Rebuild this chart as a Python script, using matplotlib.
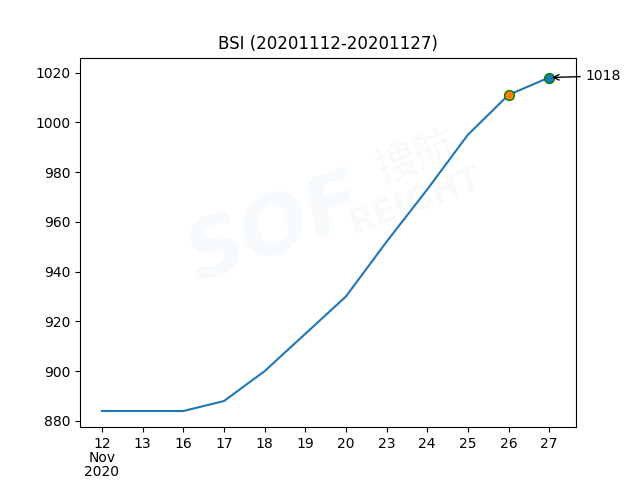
import matplotlib.pyplot as plt

plt.rcParams['font.family'] = ['DejaVu Sans', 'Noto Sans CJK SC']

days = ['12\nNov\n2020', '13', '16', '17', '18', '19', '20', '23', '24', '25', '26', '27']
bsi = [884, 884, 884, 888, 900, 915, 930, 952, 973, 995, 1011, 1018]

x = list(range(len(days)))

fig, ax = plt.subplots(figsize=(6.4, 4.8), dpi=100)

# faint watermark
fig.text(0.43, 0.52, 'SOF', fontsize=58, color='#1f77b4', alpha=0.035,
         rotation=20, ha='center', va='center', fontweight='bold', style='italic')
fig.text(0.65, 0.67, '搜航', fontsize=30, color='gray', alpha=0.05,
         rotation=20, ha='center', va='center')
fig.text(0.65, 0.58, 'REIGHT', fontsize=24, color='gray', alpha=0.05,
         rotation=20, ha='center', va='center', fontweight='bold')

ax.plot(x, bsi, color='#1f77b4')
ax.scatter(x[-2], bsi[-2], s=50, color='#ff7f0e', edgecolors='green', zorder=3)
ax.scatter(x[-1], bsi[-1], s=50, color='#1f77b4', edgecolors='green', zorder=3)
ax.annotate(str(bsi[-1]), xy=(x[-1], bsi[-1]), xytext=(x[-1] + 0.9, bsi[-1] - 1),
            arrowprops=dict(arrowstyle='->', color='black'), annotation_clip=False)

ax.set_xticks(x)
ax.set_xticklabels(days, linespacing=1.0)
ax.set_xlim(-0.54, 11.66)
ax.set_ylim(877.5, 1026)
ax.set_title('BSI (20201112-20201127)')

plt.savefig('out.png', dpi=100)
